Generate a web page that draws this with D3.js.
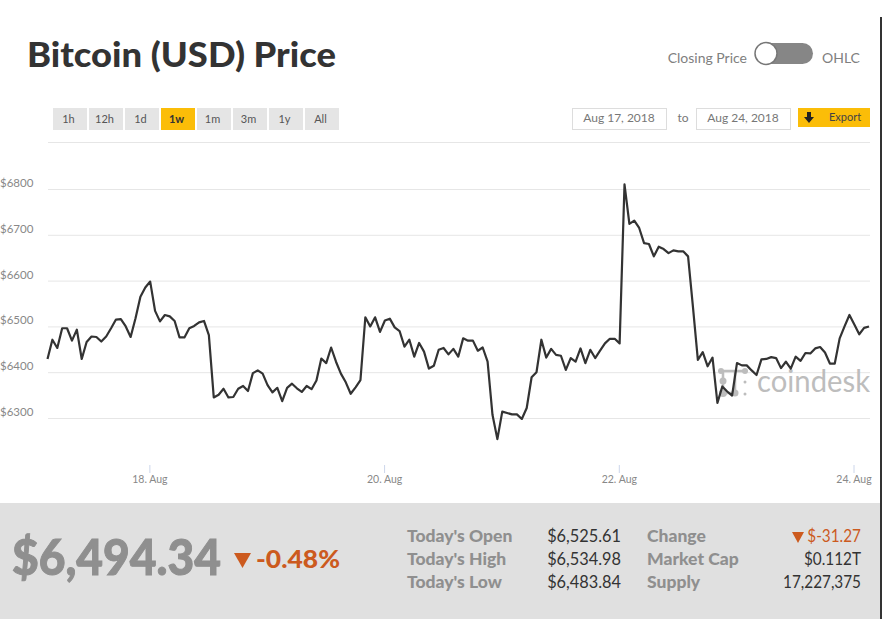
<!DOCTYPE html>
<html>
<head>
<meta charset="utf-8">
<script src="https://cdnjs.cloudflare.com/ajax/libs/d3/7.8.5/d3.min.js"></script>
<style>
  html, body { margin: 0; padding: 0; background: #fff; overflow: hidden; }
  text { font-family: Lato, "Open Sans", sans-serif; }
</style>
</head>
<body>
<svg id="chart" width="882" height="619"></svg>
<script>
// hourly closing price
const prices = [
  6430, 6472, 6454, 6497, 6497, 6470, 6494, 6430, 6467, 6479, 6478, 6468, 6479, 6497, 6516, 6517,
  6501, 6478, 6519, 6566, 6586, 6599, 6535, 6512, 6526, 6523, 6513, 6477, 6477, 6497, 6502, 6510,
  6513, 6482, 6346, 6352, 6365, 6346, 6347, 6365, 6371, 6360, 6399, 6405, 6398, 6373, 6357, 6367,
  6338, 6367, 6376, 6366, 6358, 6371, 6364, 6383, 6431, 6421, 6455, 6424, 6398, 6379, 6354, 6368,
  6384, 6521, 6501, 6521, 6489, 6514, 6518, 6499, 6491, 6457, 6472, 6435, 6465, 6446, 6409, 6415,
  6450, 6454, 6440, 6452, 6435, 6475, 6470, 6470, 6448, 6455, 6424, 6308, 6255, 6315, 6312, 6309,
  6309, 6299, 6323, 6390, 6401, 6472, 6433, 6452, 6439, 6437, 6406, 6432, 6424, 6453, 6421, 6450,
  6432, 6448, 6464, 6474, 6474, 6464, 6811, 6725, 6732, 6716, 6683, 6681, 6654, 6675, 6670, 6661,
  6667, 6665, 6665, 6654, 6543, 6428, 6445, 6414, 6433, 6334, 6370, 6359, 6350, 6421, 6416, 6416,
  6405, 6395, 6429, 6430, 6434, 6432, 6410, 6424, 6409, 6435, 6426, 6443, 6442, 6453, 6456, 6444,
  6420, 6420, 6475, 6501, 6526, 6505, 6484, 6498, 6501
];
const yTicks = [6300, 6400, 6500, 6600, 6700, 6800];
const xTickDates = ["2018-08-18", "2018-08-20", "2018-08-22", "2018-08-24"];
const ranges = ["1h", "12h", "1d", "1w", "1m", "3m", "1y", "All"];
const statsLeft = [["Today's Open", "$6,525.61"], ["Today's High", "$6,534.98"], ["Today's Low", "$6,483.84"]];
const statsRight = [["Change", "$-31.27"], ["Market Cap", "$0.112T"], ["Supply", "17,227,375"]];

const svg = d3.select("#chart");
const start = Date.UTC(2018, 7, 17, 3, 10);
const hour = 3600000;

let x = d3.scaleUtc().domain([start, start + 168 * hour]).range([47.5, 869]);
let y = d3.scaleLinear().domain([6300, 6800]).range([418.5, 189.5]);

// title and toggle
svg.append("text").attr("x", 27).attr("y", 67).attr("font-size", 35).attr("font-weight", 900)
  .attr("fill", "#333").attr("textLength", 309).attr("lengthAdjust", "spacingAndGlyphs").text("Bitcoin (USD) Price");
svg.append("text").attr("x", 747).attr("y", 63).attr("text-anchor", "end").attr("font-size", 14)
  .attr("fill", "#808080").text("Closing Price");
svg.append("text").attr("x", 822).attr("y", 63).attr("font-size", 14).attr("fill", "#808080").text("OHLC");
svg.append("rect").attr("x", 755).attr("y", 43).attr("width", 58).attr("height", 21).attr("rx", 10.5).attr("fill", "#868686");
svg.append("circle").attr("cx", 766).attr("cy", 53.5).attr("r", 11).attr("fill", "#fff").attr("stroke", "#777").attr("stroke-width", 1.5);

// range buttons
let btn = svg.selectAll(".btn").data(ranges).join("g").attr("class", "btn")
  .attr("transform", (d, i) => `translate(${53 + i * 36},108)`);
btn.append("rect").attr("width", 34).attr("height", 22).attr("fill", d => d === "1w" ? "#fbbd08" : "#e5e5e5");
btn.append("text").attr("x", 15.5).attr("y", 14.5).attr("text-anchor", "middle").attr("font-size", 11)
  .attr("font-weight", d => d === "1w" ? 700 : 400).attr("fill", d => d === "1w" ? "#333" : "#555").text(d => d);

// date inputs and export
[[572, "Aug 17, 2018"], [696, "Aug 24, 2018"]].forEach(([bx, label]) => {
  svg.append("rect").attr("x", bx + 0.5).attr("y", 108.5).attr("width", 94).attr("height", 21)
    .attr("fill", "#fff").attr("stroke", "#ddd");
  svg.append("text").attr("x", bx + 47).attr("y", 122).attr("text-anchor", "middle").attr("font-size", 12)
    .attr("fill", "#777").text(label);
});
svg.append("text").attr("x", 683).attr("y", 122).attr("text-anchor", "middle").attr("font-size", 12).attr("fill", "#777").text("to");
svg.append("rect").attr("x", 798).attr("y", 108).attr("width", 72).attr("height", 19).attr("fill", "#fbbd08");
svg.append("path").attr("d", "M807 112h4v5h3l-5 6l-5-6h3z").attr("fill", "#222");
svg.append("text").attr("x", 845).attr("y", 121).attr("text-anchor", "middle").attr("font-size", 11).attr("fill", "#444").text("Export");

// grid and axes
svg.append("line").attr("x1", 48).attr("x2", 870).attr("y1", 142.5).attr("y2", 142.5).attr("stroke", "#e6e6e6");
svg.selectAll(".grid").data(yTicks).join("line").attr("class", "grid")
  .attr("x1", 48).attr("x2", 870).attr("y1", d => y(d)).attr("y2", d => y(d)).attr("stroke", "#e6e6e6");
svg.selectAll(".ylab").data(yTicks).join("text").attr("class", "ylab")
  .attr("x", 0).attr("y", d => y(d) - 2.5).attr("font-size", 11.5).attr("fill", "#888").text(d => "$" + d);

const xAxis = d3.axisBottom(x)
  .tickValues(xTickDates.map(d => new Date(d + "T00:00:00Z")))
  .tickSize(8).tickSizeOuter(0).tickFormat(d3.utcFormat("%-d. %b"));
let ax = svg.append("g").attr("transform", "translate(0,465)").call(xAxis);
ax.select(".domain").remove();
ax.selectAll(".tick line").attr("stroke", "#ccd6eb");
ax.selectAll(".tick text").attr("y", 11).attr("font-size", 10.5).attr("font-family", "Lato").attr("fill", "#888");

// watermark
let mark = svg.append("g").attr("fill", "#bdbdbd").attr("stroke", "#bdbdbd");
mark.append("text").attr("x", 757).attr("y", 392).attr("font-size", 31).attr("stroke", "none")
  .attr("textLength", 113).attr("lengthAdjust", "spacingAndGlyphs").text("coindesk");
mark.append("path").attr("fill", "none").attr("stroke-width", 2.5)
  .attr("d", "M721 371H745M723 371V395M735 371V395M723 393H735");
[[721, 371, 3], [745, 371, 3], [723, 381, 3.5], [723, 393, 4], [735, 393, 3.5], [745, 382, 1.5], [745, 394, 1.5]]
  .forEach(([cx, cy, r]) => mark.append("circle").attr("cx", cx).attr("cy", cy).attr("r", r).attr("stroke", "none"));

// price line
const line = d3.line().x((d, i) => x(start + i * hour)).y(d => y(d));
svg.append("path").datum(prices).attr("fill", "none").attr("stroke", "#333").attr("stroke-width", 2.2)
  .attr("stroke-linejoin", "round").attr("d", line);

// summary band
svg.append("rect").attr("x", 0).attr("y", 503).attr("width", 882).attr("height", 116).attr("fill", "#e0e0e0");
svg.append("text").attr("x", 12).attr("y", 575).attr("font-size", 50).attr("font-weight", 900)
  .attr("fill", "#8f8f8f").attr("stroke", "#8f8f8f").attr("stroke-width", 1)
  .attr("textLength", 209).attr("lengthAdjust", "spacingAndGlyphs").text("$6,494.34");
svg.append("path").attr("d", "M234 553h17l-8.5 15z").attr("fill", "#cc5a1e");
svg.append("text").attr("x", 256).attr("y", 568).attr("font-size", 25).attr("font-weight", 900)
  .attr("fill", "#cc5a1e").attr("textLength", 84).attr("lengthAdjust", "spacingAndGlyphs").text("-0.48%");

function statRows(rows, labelX, valueX, squeeze) {
  let g = svg.append("g").selectAll("g").data(rows).join("g")
    .attr("transform", (d, i) => `translate(0,${542 + i * 23})`);
  g.append("text").attr("x", labelX).attr("font-size", 17.5).attr("font-weight", 900).attr("fill", "#8f8f8f")
    .attr("lengthAdjust", "spacingAndGlyphs").text(d => d[0])
    .attr("textLength", function() { return this.getComputedTextLength() * 1.0; });
  g.append("text").attr("x", valueX).attr("text-anchor", "end").attr("font-size", 17)
    .attr("fill", d => d[0] === "Change" ? "#cc5a1e" : "#333")
    .attr("lengthAdjust", "spacingAndGlyphs").text(d => d[1])
    .attr("textLength", function() { return this.getComputedTextLength() * squeeze; });
}
statRows(statsLeft, 407, 621, 0.96);
statRows(statsRight, 647, 861, 0.9);
// small arrow beside the change value
svg.append("path").attr("d", "M792 532h12l-6 11z").attr("fill", "#cc5a1e");

// dark page edge on the right
svg.append("rect").attr("x", 880).attr("y", 17).attr("width", 2).attr("height", 602).attr("fill", "#333");
</script>
</body>
</html>
